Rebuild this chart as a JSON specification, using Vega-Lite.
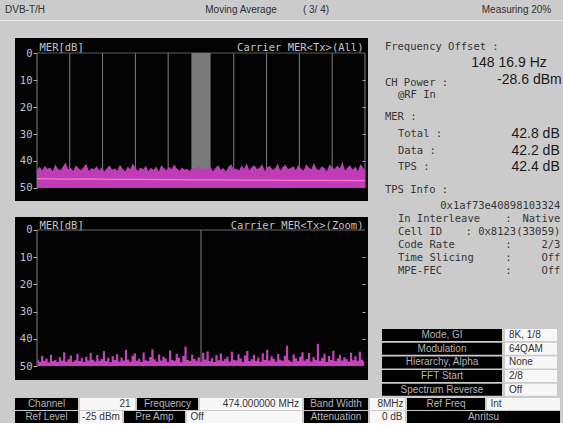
{
"$schema": "https://vega.github.io/schema/vega-lite/v6.json",
"background": "#cbcbcb",
"padding": 0,
"spacing": 0,
"config": {"view": {"stroke": null}, "text": {"font": "Liberation Sans", "fontSize": 10, "baseline": "middle"}},
"vconcat": [
 {"hconcat": [
   {"width": 50, "height": 20, "data": {"values": [{"t": "DVB-T/H"}]}, "mark": {"type": "text", "color": "#2f2f2f"}, "encoding": {"text": {"field": "t"}}},
   {"width": 140, "height": 20, "data": {"values": []}, "mark": "point"},
   {"width": 102, "height": 20, "data": {"values": [{"t": "Moving Average"}]}, "mark": {"type": "text", "color": "#2f2f2f"}, "encoding": {"text": {"field": "t"}}},
   {"width": 48, "height": 20, "data": {"values": [{"t": "( 3/ 4)"}]}, "mark": {"type": "text", "color": "#2f2f2f"}, "encoding": {"text": {"field": "t"}}},
   {"width": 130, "height": 20, "data": {"values": []}, "mark": "point"},
   {"width": 93, "height": 20, "data": {"values": [{"t": "Measuring  20%"}]}, "mark": {"type": "text", "color": "#2f2f2f"}, "encoding": {"text": {"field": "t"}}}
  ], "spacing": 0},
 {"width": 563, "height": 1, "view": {"fill": "#e9e9e9"}, "data": {"values": []}, "mark": "point"},
 {"width": 563, "height": 17, "data": {"values": []}, "mark": "point"},
 {"hconcat": [
   {"width": 15, "height": 1, "data": {"values": []}, "mark": "point"},
   {"vconcat": [
     {"width": 353, "height": 163, "view": {"fill": "#030303"},
      "resolve": {"axis": {"y": "independent"}},
      "layer": [
       {"data": {"values": [{"f": -3.804},{"f": -3.0432},{"f": -2.2824},{"f": -1.5216},{"f": -0.7608},{"f": 0},{"f": 0.7608},{"f": 1.5216},{"f": 2.2824},{"f": 3.0432},{"f": 3.804}]},
        "mark": {"type": "rule", "color": "#808080", "strokeWidth": 1},
        "encoding": {
          "x": {"field": "f", "type": "quantitative", "scale": {"domain": [-4.314, 3.874], "nice": false, "zero": false}, "axis": null},
          "y": {"datum": 0, "type": "quantitative", "scale": {"domain": [-5.556, 54.815], "reverse": true, "nice": false, "zero": false}, "axis": null},
          "y2": {"datum": 50}}},
       {"data": {"values": [{}]},
        "mark": {"type": "rule", "color": "#5c5c5c", "strokeWidth": 1},
        "encoding": {
          "x": {"datum": -3.804, "type": "quantitative", "scale": {"domain": [-4.314, 3.874], "nice": false, "zero": false}, "axis": null},
          "x2": {"datum": 3.804},
          "y": {"datum": 0, "type": "quantitative", "scale": {"domain": [-5.556, 54.815], "reverse": true, "nice": false, "zero": false}, "axis": null}}},
       {"data": {"values": [{"lo": -0.223, "hi": 0.223}]},
        "mark": {"type": "rect", "color": "#7a7a7a"},
        "encoding": {
          "x": {"field": "lo", "type": "quantitative", "scale": {"domain": [-4.314, 3.874], "nice": false, "zero": false}, "axis": null},
          "x2": {"field": "hi"},
          "y": {"datum": 0, "type": "quantitative", "scale": {"domain": [-5.556, 54.815], "reverse": true, "nice": false, "zero": false}, "axis": null},
          "y2": {"datum": 50}}},
       {"data": {"values": [
         {"f":-3.804,"m":43.2},{"f":-3.74,"m":42.1},{"f":-3.68,"m":43.5},{"f":-3.62,"m":41.8},{"f":-3.56,"m":43.0},{"f":-3.50,"m":42.4},{"f":-3.44,"m":43.8},{"f":-3.38,"m":41.2},{"f":-3.32,"m":42.9},{"f":-3.26,"m":43.4},
         {"f":-3.20,"m":42.0},{"f":-3.14,"m":40.6},{"f":-3.08,"m":43.1},{"f":-3.02,"m":42.5},{"f":-2.96,"m":43.7},{"f":-2.90,"m":41.5},{"f":-2.84,"m":42.8},{"f":-2.78,"m":43.3},{"f":-2.72,"m":42.2},{"f":-2.66,"m":41.0},
         {"f":-2.60,"m":43.6},{"f":-2.54,"m":42.7},{"f":-2.48,"m":43.0},{"f":-2.42,"m":41.9},{"f":-2.36,"m":43.4},{"f":-2.30,"m":42.3},{"f":-2.24,"m":43.9},{"f":-2.18,"m":42.6},{"f":-2.12,"m":41.7},{"f":-2.06,"m":43.2},
         {"f":-2.00,"m":42.8},{"f":-1.94,"m":43.5},{"f":-1.88,"m":41.4},{"f":-1.82,"m":42.9},{"f":-1.76,"m":43.8},{"f":-1.70,"m":42.1},{"f":-1.64,"m":43.0},{"f":-1.58,"m":40.9},{"f":-1.52,"m":42.6},{"f":-1.46,"m":43.6},
         {"f":-1.40,"m":42.4},{"f":-1.34,"m":43.1},{"f":-1.28,"m":41.8},{"f":-1.22,"m":43.7},{"f":-1.16,"m":42.5},{"f":-1.10,"m":43.3},{"f":-1.04,"m":42.0},{"f":-0.98,"m":43.9},{"f":-0.92,"m":41.6},{"f":-0.86,"m":42.7},
         {"f":-0.80,"m":43.4},{"f":-0.74,"m":42.2},{"f":-0.68,"m":43.0},{"f":-0.62,"m":41.3},{"f":-0.56,"m":42.8},{"f":-0.50,"m":43.6},{"f":-0.44,"m":42.4},{"f":-0.38,"m":43.2},{"f":-0.32,"m":42.9},{"f":-0.26,"m":43.7},
         {"f":-0.20,"m":42.6},{"f":-0.14,"m":43.1},{"f":-0.08,"m":42.3},{"f":-0.02,"m":41.9},{"f":0.04,"m":43.5},{"f":0.10,"m":42.7},{"f":0.16,"m":43.0},{"f":0.22,"m":42.1},{"f":0.28,"m":43.8},{"f":0.34,"m":42.5},
         {"f":0.40,"m":41.5},{"f":0.46,"m":43.3},{"f":0.52,"m":42.6},{"f":0.58,"m":43.9},{"f":0.64,"m":42.0},{"f":0.70,"m":41.2},{"f":0.76,"m":43.1},{"f":0.82,"m":42.8},{"f":0.88,"m":43.6},{"f":0.94,"m":41.7},
         {"f":1.00,"m":42.9},{"f":1.06,"m":40.8},{"f":1.12,"m":43.4},{"f":1.18,"m":42.2},{"f":1.24,"m":41.6},{"f":1.30,"m":43.0},{"f":1.36,"m":42.5},{"f":1.42,"m":41.1},{"f":1.48,"m":43.7},{"f":1.54,"m":42.3},
         {"f":1.60,"m":41.8},{"f":1.66,"m":43.2},{"f":1.72,"m":42.7},{"f":1.78,"m":40.9},{"f":1.84,"m":43.5},{"f":1.90,"m":42.1},{"f":1.96,"m":41.4},{"f":2.02,"m":43.0},{"f":2.08,"m":42.6},{"f":2.14,"m":41.9},
         {"f":2.20,"m":43.3},{"f":2.26,"m":41.5},{"f":2.32,"m":42.8},{"f":2.38,"m":43.6},{"f":2.44,"m":41.2},{"f":2.50,"m":42.4},{"f":2.56,"m":43.1},{"f":2.62,"m":40.7},{"f":2.68,"m":42.9},{"f":2.74,"m":43.4},
         {"f":2.80,"m":41.9},{"f":2.86,"m":42.6},{"f":2.92,"m":43.8},{"f":2.98,"m":41.3},{"f":3.04,"m":42.2},{"f":3.10,"m":43.0},{"f":3.16,"m":41.7},{"f":3.22,"m":42.8},{"f":3.28,"m":40.2},{"f":3.34,"m":43.5},
         {"f":3.40,"m":42.4},{"f":3.46,"m":41.6},{"f":3.52,"m":43.2},{"f":3.58,"m":42.0},{"f":3.64,"m":43.7},{"f":3.70,"m":41.1},{"f":3.76,"m":42.5},{"f":3.804,"m":43.3}]},
        "mark": {"type": "area", "color": "#bf3cb6", "interpolate": "linear"},
        "encoding": {
          "x": {"field": "f", "type": "quantitative", "scale": {"domain": [-4.314, 3.874], "nice": false, "zero": false},
                "axis": {"orient": "bottom", "offset": -13, "values": [-3.804, 0, 3.804], "labelFlush": 25, "domain": false, "ticks": false, "grid": false,
                         "labelColor": "#c4c4c4", "labelFont": "DejaVu Sans Mono", "labelFontSize": 10.5, "labelPadding": 1,
                         "labelExpr": "datum.value == 0 ? '0' : (datum.value < 0 ? '-' : '') + format(abs(datum.value), '.3f')",
                         "title": "[MHz]", "titleX": 197, "titleY": 1, "titleAlign": "left", "titleBaseline": "top", "titleAngle": 0,
                         "titleColor": "#c4c4c4", "titleFont": "DejaVu Sans Mono", "titleFontSize": 10.5, "titleFontWeight": "normal"}},
          "y": {"field": "m", "type": "quantitative", "scale": {"domain": [-5.556, 54.815], "reverse": true, "nice": false, "zero": false},
                "axis": {"orient": "left", "offset": -22, "values": [0, 10, 20, 30, 40, 50], "domain": false, "grid": false, "tickSize": 4, "tickColor": "#b0b0b0",
                         "labelColor": "#c4c4c4", "labelFont": "DejaVu Sans Mono", "labelFontSize": 10.5, "labelPadding": 1,
                         "title": "MER[dB]", "titleAngle": 0, "titleX": 2, "titleY": 9.7, "titleAlign": "left", "titleBaseline": "middle",
                         "titleColor": "#c4c4c4", "titleFont": "DejaVu Sans Mono", "titleFontSize": 10.5, "titleFontWeight": "normal"}},
          "y2": {"datum": 50}}},
       {"data": {"values": [{"f":-3.804,"m":46.5},{"f":-3.2,"m":46.7},{"f":-2.6,"m":46.6},{"f":-2.0,"m":46.8},{"f":-1.4,"m":46.8},{"f":-0.8,"m":46.9},{"f":-0.2,"m":47.0},{"f":0.4,"m":47.0},{"f":1.0,"m":47.1},{"f":1.6,"m":47.1},{"f":2.2,"m":47.2},{"f":2.8,"m":47.2},{"f":3.804,"m":47.3}]},
        "mark": {"type": "line", "color": "#ff74cf", "strokeWidth": 1.2},
        "encoding": {
          "x": {"field": "f", "type": "quantitative", "scale": {"domain": [-4.314, 3.874], "nice": false, "zero": false}, "axis": null},
          "y": {"field": "m", "type": "quantitative", "scale": {"domain": [-5.556, 54.815], "reverse": true, "nice": false, "zero": false},
                "axis": {"orient": "right", "offset": -6, "values": [10, 20, 30, 40], "domain": false, "grid": false, "labels": false, "tickSize": 3, "tickColor": "#b0b0b0",
                         "title": "Carrier MER<Tx>(All)", "titleAngle": 0, "titleX": 1, "titleY": 9.7, "titleAlign": "right", "titleBaseline": "middle",
                         "titleColor": "#c4c4c4", "titleFont": "DejaVu Sans Mono", "titleFontSize": 10.5, "titleFontWeight": "normal"}}}}
      ]},
     {"width": 353, "height": 163, "view": {"fill": "#030303"},
      "resolve": {"axis": {"y": "independent"}},
      "layer": [
       {"data": {"values": [{"f": -0.223},{"f": 0}]},
        "mark": {"type": "rule", "color": "#808080", "strokeWidth": 1},
        "encoding": {
          "x": {"field": "f", "type": "quantitative", "scale": {"domain": [-0.252915, 0.227079], "nice": false, "zero": false}, "axis": null},
          "y": {"datum": 0, "type": "quantitative", "scale": {"domain": [-4.779, 55.147], "reverse": true, "nice": false, "zero": false}, "axis": null},
          "y2": {"datum": 50}}},
       {"data": {"values": [{}]},
        "mark": {"type": "rule", "color": "#6a6a6a", "strokeWidth": 1},
        "encoding": {
          "x": {"datum": -0.223, "type": "quantitative", "scale": {"domain": [-0.252915, 0.227079], "nice": false, "zero": false}, "axis": null},
          "x2": {"datum": 0.223},
          "y": {"datum": 0, "type": "quantitative", "scale": {"domain": [-4.779, 55.147], "reverse": true, "nice": false, "zero": false},
                "axis": {"orient": "right", "offset": -6, "values": [10, 20, 30, 40], "domain": false, "grid": false, "labels": false, "tickSize": 3, "tickColor": "#b0b0b0",
                         "title": "Carrier MER<Tx>(Zoom)", "titleAngle": 0, "titleX": 1, "titleY": 8, "titleAlign": "right", "titleBaseline": "middle",
                         "titleColor": "#c4c4c4", "titleFont": "DejaVu Sans Mono", "titleFontSize": 10.5, "titleFontWeight": "normal"}}}},
       {"data": {"values": [
         {"f":-0.222,"m":47.6},{"f":-0.219,"m":48.4},{"f":-0.216,"m":46.3},{"f":-0.213,"m":48.1},{"f":-0.210,"m":47.2},{"f":-0.207,"m":48.6},{"f":-0.204,"m":45.9},{"f":-0.201,"m":48.2},{"f":-0.198,"m":47.8},{"f":-0.195,"m":48.5},
         {"f":-0.192,"m":46.8},{"f":-0.189,"m":48.0},{"f":-0.186,"m":44.9},{"f":-0.183,"m":48.3},{"f":-0.180,"m":47.5},{"f":-0.177,"m":46.1},{"f":-0.174,"m":48.4},{"f":-0.171,"m":47.9},{"f":-0.168,"m":45.6},{"f":-0.165,"m":48.2},
         {"f":-0.162,"m":47.1},{"f":-0.159,"m":48.5},{"f":-0.156,"m":46.6},{"f":-0.153,"m":48.0},{"f":-0.150,"m":45.2},{"f":-0.147,"m":47.7},{"f":-0.144,"m":48.3},{"f":-0.141,"m":46.0},{"f":-0.138,"m":48.1},{"f":-0.135,"m":47.4},
         {"f":-0.132,"m":44.6},{"f":-0.129,"m":48.2},{"f":-0.126,"m":47.0},{"f":-0.123,"m":48.6},{"f":-0.120,"m":46.4},{"f":-0.117,"m":47.8},{"f":-0.114,"m":45.7},{"f":-0.111,"m":48.3},{"f":-0.108,"m":46.9},{"f":-0.105,"m":48.0},
         {"f":-0.102,"m":44.1},{"f":-0.099,"m":47.6},{"f":-0.096,"m":48.4},{"f":-0.093,"m":46.2},{"f":-0.090,"m":45.3},{"f":-0.087,"m":48.1},{"f":-0.084,"m":47.3},{"f":-0.081,"m":48.5},{"f":-0.078,"m":45.0},{"f":-0.075,"m":47.9},
         {"f":-0.072,"m":48.2},{"f":-0.069,"m":46.7},{"f":-0.066,"m":43.8},{"f":-0.063,"m":47.5},{"f":-0.060,"m":48.3},{"f":-0.057,"m":45.8},{"f":-0.054,"m":48.0},{"f":-0.051,"m":46.5},{"f":-0.048,"m":47.2},{"f":-0.045,"m":48.4},
         {"f":-0.042,"m":44.3},{"f":-0.039,"m":47.7},{"f":-0.036,"m":48.1},{"f":-0.033,"m":45.5},{"f":-0.030,"m":47.0},{"f":-0.027,"m":48.5},{"f":-0.024,"m":46.3},{"f":-0.021,"m":42.9},{"f":-0.018,"m":47.8},{"f":-0.015,"m":48.2},
         {"f":-0.012,"m":45.9},{"f":-0.009,"m":47.4},{"f":-0.006,"m":48.0},{"f":-0.003,"m":46.8},{"f":0.000,"m":48.4},{"f":0.003,"m":45.1},{"f":0.006,"m":47.6},{"f":0.009,"m":44.7},{"f":0.012,"m":48.2},{"f":0.015,"m":47.1},
         {"f":0.018,"m":48.5},{"f":0.021,"m":46.0},{"f":0.024,"m":47.9},{"f":0.027,"m":45.4},{"f":0.030,"m":48.1},{"f":0.033,"m":47.3},{"f":0.036,"m":46.6},{"f":0.039,"m":48.3},{"f":0.042,"m":44.8},{"f":0.045,"m":47.7},
         {"f":0.048,"m":48.0},{"f":0.051,"m":45.7},{"f":0.054,"m":47.2},{"f":0.057,"m":48.4},{"f":0.060,"m":46.1},{"f":0.063,"m":44.5},{"f":0.066,"m":48.2},{"f":0.069,"m":47.5},{"f":0.072,"m":45.9},{"f":0.075,"m":48.1},
         {"f":0.078,"m":46.9},{"f":0.081,"m":48.4},{"f":0.084,"m":45.3},{"f":0.087,"m":47.8},{"f":0.090,"m":44.0},{"f":0.093,"m":48.0},{"f":0.096,"m":46.4},{"f":0.099,"m":47.3},{"f":0.102,"m":48.3},{"f":0.105,"m":45.6},
         {"f":0.108,"m":47.6},{"f":0.111,"m":48.1},{"f":0.114,"m":46.2},{"f":0.117,"m":42.6},{"f":0.120,"m":47.9},{"f":0.123,"m":48.4},{"f":0.126,"m":45.8},{"f":0.129,"m":47.1},{"f":0.132,"m":48.2},{"f":0.135,"m":46.5},
         {"f":0.138,"m":44.9},{"f":0.141,"m":48.0},{"f":0.144,"m":47.4},{"f":0.147,"m":45.2},{"f":0.150,"m":48.3},{"f":0.153,"m":46.7},{"f":0.156,"m":47.7},{"f":0.159,"m":41.8},{"f":0.162,"m":48.1},{"f":0.165,"m":47.0},
         {"f":0.168,"m":45.5},{"f":0.171,"m":48.4},{"f":0.174,"m":46.3},{"f":0.177,"m":47.8},{"f":0.180,"m":44.4},{"f":0.183,"m":48.2},{"f":0.186,"m":47.2},{"f":0.189,"m":45.9},{"f":0.192,"m":48.0},{"f":0.195,"m":46.8},
         {"f":0.198,"m":47.5},{"f":0.201,"m":48.3},{"f":0.204,"m":45.1},{"f":0.207,"m":47.9},{"f":0.210,"m":46.4},{"f":0.213,"m":48.1},{"f":0.216,"m":44.8},{"f":0.219,"m":47.6},{"f":0.222,"m":48.2}]},
        "mark": {"type": "area", "color": "#c443bd", "interpolate": "step"},
        "encoding": {
          "x": {"field": "f", "type": "quantitative", "scale": {"domain": [-0.252915, 0.227079], "nice": false, "zero": false},
                "axis": {"orient": "bottom", "offset": -14, "values": [-0.223, 0.223], "labelFlush": 25, "domain": false, "ticks": false, "grid": false,
                         "labelColor": "#c4c4c4", "labelFont": "DejaVu Sans Mono", "labelFontSize": 10.5, "labelPadding": 1,
                         "labelExpr": "(datum.value < 0 ? '-' : '') + format(abs(datum.value), '.3f')",
                         "title": "[MHz]", "titleX": 184, "titleY": 1, "titleAlign": "left", "titleBaseline": "top", "titleAngle": 0,
                         "titleColor": "#c4c4c4", "titleFont": "DejaVu Sans Mono", "titleFontSize": 10.5, "titleFontWeight": "normal"}},
          "y": {"field": "m", "type": "quantitative", "scale": {"domain": [-4.779, 55.147], "reverse": true, "nice": false, "zero": false},
                "axis": {"orient": "left", "offset": -22, "values": [0, 10, 20, 30, 40, 50], "domain": false, "grid": false, "tickSize": 4, "tickColor": "#b0b0b0",
                         "labelColor": "#c4c4c4", "labelFont": "DejaVu Sans Mono", "labelFontSize": 10.5, "labelPadding": 1,
                         "title": "MER[dB]", "titleAngle": 0, "titleX": 2, "titleY": 8, "titleAlign": "left", "titleBaseline": "middle",
                         "titleColor": "#c4c4c4", "titleFont": "DejaVu Sans Mono", "titleFontSize": 10.5, "titleFontWeight": "normal"}},
          "y2": {"datum": 50}}}
      ]}
    ], "spacing": 16},
   {"vconcat": [
     {"width": 195, "height": 289,
      "data": {"values": [
        {"part":"label","col":0,"line":0,"text":"Frequency Offset :"},
        {"part":"big","col":24.9,"line":1.2,"text":"148 16.9  Hz"},
        {"part":"label","col":0,"line":2.7,"text":"CH Power :"},
        {"part":"big","col":27.2,"line":2.45,"text":"-28.6 dBm"},
        {"part":"label","col":2,"line":3.6,"text":"@RF In"},
        {"part":"label","col":0,"line":5.26,"text":"MER :"},
        {"part":"label","col":2,"line":6.54,"text":"Total :"},
        {"part":"big","col":26.9,"line":6.54,"text":"42.8 dB"},
        {"part":"label","col":2,"line":7.82,"text":"Data  :"},
        {"part":"big","col":26.9,"line":7.82,"text":"42.2 dB"},
        {"part":"label","col":2,"line":9.02,"text":"TPS   :"},
        {"part":"big","col":26.9,"line":9.02,"text":"42.4 dB"},
        {"part":"label","col":0,"line":10.75,"text":"TPS Info :"},
        {"part":"value","col":27,"line":11.95,"text":"0x1af73e40898103324"},
        {"part":"label","col":2,"line":12.93,"text":"In Interleave"},
        {"part":"label","col":18.5,"line":12.93,"text":":"},
        {"part":"value","col":27,"line":12.93,"text":"Native"},
        {"part":"label","col":2,"line":13.9,"text":"Cell ID"},
        {"part":"value","col":27,"line":13.9,"text":": 0x8123(33059)"},
        {"part":"label","col":2,"line":14.9,"text":"Code Rate"},
        {"part":"label","col":18.5,"line":14.9,"text":":"},
        {"part":"value","col":27,"line":14.9,"text":"2/3"},
        {"part":"label","col":2,"line":15.86,"text":"Time Slicing"},
        {"part":"label","col":18.5,"line":15.86,"text":":"},
        {"part":"value","col":27,"line":15.86,"text":"Off"},
        {"part":"label","col":2,"line":16.84,"text":"MPE-FEC"},
        {"part":"label","col":18.5,"line":16.84,"text":":"},
        {"part":"value","col":27,"line":16.84,"text":"Off"}
      ]},
      "layer": [
       {"transform": [{"filter": "datum.part == 'label'"}],
        "mark": {"type": "text", "align": "left", "font": "DejaVu Sans Mono", "fontSize": 10.5, "color": "#363636"},
        "encoding": {
          "x": {"field": "col", "type": "quantitative", "scale": {"domain": [-2.6, 27.4], "nice": false, "zero": false}, "axis": null},
          "y": {"field": "line", "type": "quantitative", "scale": {"domain": [-0.677, 21.053], "reverse": true, "nice": false, "zero": false}, "axis": null},
          "text": {"field": "text"}}},
       {"transform": [{"filter": "datum.part == 'value'"}],
        "mark": {"type": "text", "align": "right", "font": "DejaVu Sans Mono", "fontSize": 10.5, "color": "#363636"},
        "encoding": {
          "x": {"field": "col", "type": "quantitative", "scale": {"domain": [-2.6, 27.4], "nice": false, "zero": false}, "axis": null},
          "y": {"field": "line", "type": "quantitative", "scale": {"domain": [-0.677, 21.053], "reverse": true, "nice": false, "zero": false}, "axis": null},
          "text": {"field": "text"}}},
       {"transform": [{"filter": "datum.part == 'big'"}],
        "mark": {"type": "text", "align": "right", "font": "Liberation Sans", "fontSize": 14, "color": "#1a1a1a"},
        "encoding": {
          "x": {"field": "col", "type": "quantitative", "scale": {"domain": [-2.6, 27.4], "nice": false, "zero": false}, "axis": null},
          "y": {"field": "line", "type": "quantitative", "scale": {"domain": [-0.677, 21.053], "reverse": true, "nice": false, "zero": false}, "axis": null},
          "text": {"field": "text"}}}
      ]},
     {"vconcat": [
       {"hconcat": [
         {"width": 11, "height": 1, "data": {"values": []}, "mark": "point"},
         {"width": 120, "height": 12, "view": {"fill": "#000000"}, "data": {"values": [{"t": "Mode, GI"}]}, "mark": {"type": "text", "color": "#b4b4b4"}, "encoding": {"text": {"field": "t"}}},
         {"width": 52, "height": 12, "view": {"fill": "#f7f7f7"}, "data": {"values": [{"t": "8K, 1/8"}]}, "mark": {"type": "text", "color": "#333333", "align": "left", "dx": -22}, "encoding": {"text": {"field": "t"}}}
        ], "spacing": 3},
       {"hconcat": [
         {"width": 11, "height": 1, "data": {"values": []}, "mark": "point"},
         {"width": 120, "height": 12, "view": {"fill": "#000000"}, "data": {"values": [{"t": "Modulation"}]}, "mark": {"type": "text", "color": "#b4b4b4"}, "encoding": {"text": {"field": "t"}}},
         {"width": 52, "height": 12, "view": {"fill": "#f7f7f7"}, "data": {"values": [{"t": "64QAM"}]}, "mark": {"type": "text", "color": "#333333", "align": "left", "dx": -22}, "encoding": {"text": {"field": "t"}}}
        ], "spacing": 3},
       {"hconcat": [
         {"width": 11, "height": 1, "data": {"values": []}, "mark": "point"},
         {"width": 120, "height": 12, "view": {"fill": "#000000"}, "data": {"values": [{"t": "Hierarchy, Alpha"}]}, "mark": {"type": "text", "color": "#b4b4b4"}, "encoding": {"text": {"field": "t"}}},
         {"width": 52, "height": 12, "view": {"fill": "#f7f7f7"}, "data": {"values": [{"t": "None"}]}, "mark": {"type": "text", "color": "#333333", "align": "left", "dx": -22}, "encoding": {"text": {"field": "t"}}}
        ], "spacing": 3},
       {"hconcat": [
         {"width": 11, "height": 1, "data": {"values": []}, "mark": "point"},
         {"width": 120, "height": 12, "view": {"fill": "#000000"}, "data": {"values": [{"t": "FFT Start"}]}, "mark": {"type": "text", "color": "#b4b4b4"}, "encoding": {"text": {"field": "t"}}},
         {"width": 52, "height": 12, "view": {"fill": "#f7f7f7"}, "data": {"values": [{"t": "2/8"}]}, "mark": {"type": "text", "color": "#333333", "align": "left", "dx": -22}, "encoding": {"text": {"field": "t"}}}
        ], "spacing": 3},
       {"hconcat": [
         {"width": 11, "height": 1, "data": {"values": []}, "mark": "point"},
         {"width": 120, "height": 12, "view": {"fill": "#000000"}, "data": {"values": [{"t": "Spectrum Reverse"}]}, "mark": {"type": "text", "color": "#b4b4b4"}, "encoding": {"text": {"field": "t"}}},
         {"width": 52, "height": 12, "view": {"fill": "#f7f7f7"}, "data": {"values": [{"t": "Off"}]}, "mark": {"type": "text", "color": "#333333", "align": "left", "dx": -22}, "encoding": {"text": {"field": "t"}}}
        ], "spacing": 3}
      ], "spacing": 1.7}
    ], "spacing": 2}
  ], "spacing": 0},
 {"width": 563, "height": 2, "data": {"values": []}, "mark": "point"},
 {"vconcat": [
   {"hconcat": [
     {"width": 13, "height": 1, "data": {"values": []}, "mark": "point"},
     {"width": 63, "height": 12, "view": {"fill": "#000000"}, "data": {"values": [{"t": "Channel"}]}, "mark": {"type": "text", "color": "#b4b4b4"}, "encoding": {"text": {"field": "t"}}},
     {"width": 55, "height": 12, "view": {"fill": "#f7f7f7"}, "data": {"values": [{"t": "21"}]}, "mark": {"type": "text", "color": "#333333", "align": "right", "dx": 23}, "encoding": {"text": {"field": "t"}}},
     {"width": 61, "height": 12, "view": {"fill": "#000000"}, "data": {"values": [{"t": "Frequency"}]}, "mark": {"type": "text", "color": "#b4b4b4"}, "encoding": {"text": {"field": "t"}}},
     {"width": 102, "height": 12, "view": {"fill": "#f7f7f7"}, "data": {"values": [{"t": "474.000000 MHz"}]}, "mark": {"type": "text", "color": "#333333", "align": "right", "dx": 48}, "encoding": {"text": {"field": "t"}}},
     {"width": 64, "height": 12, "view": {"fill": "#000000"}, "data": {"values": [{"t": "Band Width"}]}, "mark": {"type": "text", "color": "#b4b4b4"}, "encoding": {"text": {"field": "t"}}},
     {"width": 35, "height": 12, "view": {"fill": "#f7f7f7"}, "data": {"values": [{"t": "8MHz"}]}, "mark": {"type": "text", "color": "#333333", "align": "right", "dx": 16}, "encoding": {"text": {"field": "t"}}},
     {"width": 78, "height": 12, "view": {"fill": "#000000"}, "data": {"values": [{"t": "Ref Freq"}]}, "mark": {"type": "text", "color": "#b4b4b4"}, "encoding": {"text": {"field": "t"}}},
     {"width": 73, "height": 12, "view": {"fill": "#f7f7f7"}, "data": {"values": [{"t": "Int"}]}, "mark": {"type": "text", "color": "#333333", "align": "left", "dx": -33}, "encoding": {"text": {"field": "t"}}}
    ], "spacing": 2},
   {"hconcat": [
     {"width": 13, "height": 1, "data": {"values": []}, "mark": "point"},
     {"width": 63, "height": 12, "view": {"fill": "#000000"}, "data": {"values": [{"t": "Ref Level"}]}, "mark": {"type": "text", "color": "#b4b4b4"}, "encoding": {"text": {"field": "t"}}},
     {"width": 42, "height": 12, "view": {"fill": "#f7f7f7"}, "data": {"values": [{"t": "-25 dBm"}]}, "mark": {"type": "text", "color": "#333333"}, "encoding": {"text": {"field": "t"}}},
     {"width": 61, "height": 12, "view": {"fill": "#000000"}, "data": {"values": [{"t": "Pre Amp"}]}, "mark": {"type": "text", "color": "#b4b4b4"}, "encoding": {"text": {"field": "t"}}},
     {"width": 115, "height": 12, "view": {"fill": "#f7f7f7"}, "data": {"values": [{"t": "Off"}]}, "mark": {"type": "text", "color": "#333333", "align": "left", "dx": -54}, "encoding": {"text": {"field": "t"}}},
     {"width": 64, "height": 12, "view": {"fill": "#000000"}, "data": {"values": [{"t": "Attenuation"}]}, "mark": {"type": "text", "color": "#b4b4b4"}, "encoding": {"text": {"field": "t"}}},
     {"width": 35, "height": 12, "view": {"fill": "#f7f7f7"}, "data": {"values": [{"t": "0 dB"}]}, "mark": {"type": "text", "color": "#333333", "align": "right", "dx": 15}, "encoding": {"text": {"field": "t"}}},
     {"width": 153, "height": 12, "view": {"fill": "#000000"}, "data": {"values": [{"t": "Anritsu"}]}, "mark": {"type": "text", "color": "#b4b4b4"}, "encoding": {"text": {"field": "t"}}}
    ], "spacing": 2}
  ], "spacing": 1}
]
}
